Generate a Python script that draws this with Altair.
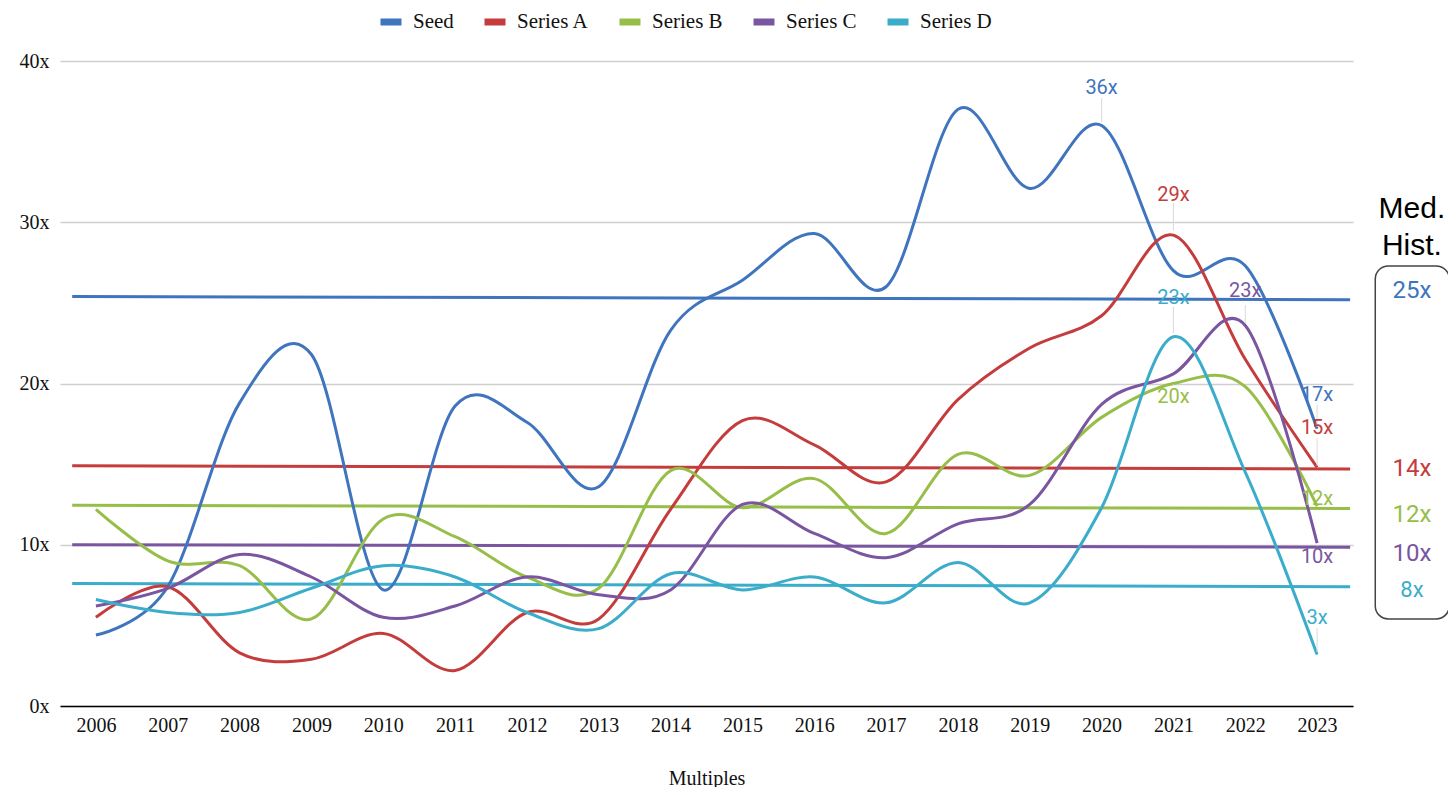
import altair as alt
import pandas as pd

# ---------------- data ----------------
years = list(range(2006, 2024))
series_names = ["Seed", "Series A", "Series B", "Series C", "Series D"]
series_colors = ["#3F74BE", "#C43C3C", "#96BE48", "#7A56A0", "#3BADCA"]

seed     = [4.4, 7.4, 18.8, 21.8, 7.2, 18.6, 17.6, 13.6, 23.3, 26.4, 29.3, 26.0, 37.0, 32.1, 36.0, 27.0, 27.3, 17.2]
series_a = [5.5, 7.4, 3.3, 2.9, 4.5, 2.2, 5.8, 5.4, 12.2, 17.7, 16.2, 13.9, 19.0, 22.2, 24.2, 29.2, 21.5, 14.8]
series_b = [12.2, 9.0, 8.7, 5.4, 11.6, 10.5, 8.0, 7.3, 14.6, 12.3, 14.1, 10.7, 15.6, 14.3, 17.9, 20.0, 19.8, 12.4]
series_c = [6.2, 7.3, 9.4, 8.0, 5.5, 6.2, 8.0, 6.9, 7.2, 12.5, 10.7, 9.2, 11.3, 12.5, 18.7, 20.6, 23.6, 10.1]
series_d = [6.6, 5.8, 5.8, 7.3, 8.7, 8.0, 5.8, 4.8, 8.2, 7.2, 8.0, 6.4, 8.9, 6.4, 12.3, 22.9, 14.5, 3.2]

# historical medians (start / end of the reference line)
med_span = [2005.67, 2023.46]
med_seed = [25.4, 25.2]
med_a = [14.9, 14.7]
med_b = [12.45, 12.25]
med_c = [10.0, 9.85]
med_d = [7.6, 7.4]

# point annotations
ann_series = ["Seed", "Series A", "Series D", "Series C", "Series B",
              "Seed", "Series A", "Series B", "Series C", "Series D"]
ann_year = [2020, 2021, 2021, 2022, 2021, 2023, 2023, 2023, 2023, 2023]
ann_text = ["36x", "29x", "23x", "23x", "20x", "17x", "15x", "12x", "10x", "3x"]
ann_y = [38.33, 31.69, 25.3, 25.74, 19.16, 19.29, 17.24, 12.84, 9.24, 5.46]
lead_top = [37.7, 31.2, 24.74, 24.87, 19.9, 18.67, 16.62, 12.3, 9.9, 4.84]
lead_bot = [36.2, 29.5, 23.13, 23.75, 19.95, 17.3, 14.9, 12.3, 9.95, 3.35]

# side panel "Med. Hist."
panel_title = ["Med.", "Hist."]
panel_title_y = [30.82, 28.53]
panel_vals = ["25x", "14x", "12x", "10x"]
panel_val_series = ["Seed", "Series A", "Series B", "Series C"]
panel_val_y = [25.74, 14.70, 11.84, 9.43]
panel_small = ["8x"]
panel_small_y = [7.19]
panel_x = 2024.32
box_x = [2023.81, 2024.84]
box_y = [27.29, 5.40]

# ---------------- tables ----------------
values = {"Seed": seed, "Series A": series_a, "Series B": series_b,
          "Series C": series_c, "Series D": series_d}
meds = {"Seed": med_seed, "Series A": med_a, "Series B": med_b,
        "Series C": med_c, "Series D": med_d}
cmap = dict(zip(series_names, series_colors))

df_lines = pd.DataFrame([
    {"year": y, "value": v, "series": s}
    for s in series_names for y, v in zip(years, values[s])
])
df_med = pd.DataFrame([
    {"year": x, "value": v, "series": s, "grp": "m_" + s}
    for s in series_names for x, v in zip(med_span, meds[s])
])
df_ann = pd.DataFrame({
    "year": ann_year, "y": ann_y, "text": ann_text,
    "c": [cmap[s] for s in ann_series],
    "top": lead_top, "bot": lead_bot,
})
df_title = pd.DataFrame({"x": [panel_x] * 2, "y": panel_title_y, "text": panel_title})
df_pv = pd.DataFrame({"x": [panel_x] * 4, "y": panel_val_y, "text": panel_vals,
                      "c": [cmap[s] for s in panel_val_series]})
df_ps = pd.DataFrame({"x": [panel_x], "y": panel_small_y, "text": panel_small,
                      "c": [cmap["Series D"]]})
df_box = pd.DataFrame({"x": [box_x[0]], "x2": [box_x[1]], "y": [box_y[0]], "y2": [box_y[1]]})

# ---------------- scales / axes ----------------
xscale = alt.Scale(domain=[2005.5, 2023.5], nice=False, zero=False)
yscale = alt.Scale(domain=[0, 40], nice=False)
SERIF = "Liberation Serif"

xaxis = alt.Axis(values=years, format="d", title="Multiples", ticks=False,
                 grid=False, domain=True, domainColor="#000", domainWidth=1.5,
                 labelFont=SERIF, labelFontSize=20, labelColor="#111",
                 labelPadding=9, titleFont=SERIF, titleFontSize=20,
                 titleFontWeight="normal", titleColor="#111", titlePadding=33)
yaxis = alt.Axis(values=[0, 10, 20, 30, 40], labelExpr="datum.value + 'x'",
                 title=None, ticks=False, domain=False, grid=True,
                 gridColor="#cfcfcf", gridWidth=1.5,
                 labelFont=SERIF, labelFontSize=20, labelColor="#111",
                 labelPadding=11)

color_scale = alt.Scale(domain=series_names, range=series_colors)
legend = alt.Legend(title=None, orient="none", legendX=317, legendY=-53,
                    direction="horizontal", symbolType="stroke",
                    symbolSize=441, symbolStrokeWidth=7, labelFont=SERIF,
                    labelFontSize=21, labelColor="#111", labelOffset=8,
                    columnPadding=16, padding=0)

X = alt.X("year:Q", scale=xscale, axis=xaxis)
Y = alt.Y("value:Q", scale=yscale, axis=yaxis)

lines = alt.Chart(df_lines).mark_line(interpolate="cardinal", strokeWidth=3).encode(
    x=X, y=Y, color=alt.Color("series:N", scale=color_scale, legend=legend)
)
medians = alt.Chart(df_med).mark_line(strokeWidth=3).encode(
    x=alt.X("year:Q", scale=xscale), y=alt.Y("value:Q", scale=yscale),
    color=alt.Color("series:N", scale=color_scale, legend=legend),
    detail="grp:N",
)
leaders = alt.Chart(df_ann).mark_rule(color="#d9d9d9", strokeWidth=1).encode(
    x=alt.X("year:Q", scale=xscale), y=alt.Y("top:Q", scale=yscale), y2="bot:Q"
)
ann = alt.Chart(df_ann).mark_text(font="Roboto", fontSize=20, baseline="middle",
                                  align="center").encode(
    x=alt.X("year:Q", scale=xscale), y=alt.Y("y:Q", scale=yscale),
    text="text:N", color=alt.Color("c:N", scale=None),
)
ptitle = alt.Chart(df_title).mark_text(font="Liberation Sans", fontSize=30,
                                       baseline="middle", align="center",
                                       color="#000").encode(
    x=alt.X("x:Q", scale=xscale), y=alt.Y("y:Q", scale=yscale), text="text:N"
)
pvals = alt.Chart(df_pv).mark_text(font="Roboto", fontSize=24, baseline="middle",
                                   align="center").encode(
    x=alt.X("x:Q", scale=xscale), y=alt.Y("y:Q", scale=yscale), text="text:N",
    color=alt.Color("c:N", scale=None),
)
psmall = alt.Chart(df_ps).mark_text(font="Roboto", fontSize=22, baseline="middle",
                                    align="center").encode(
    x=alt.X("x:Q", scale=xscale), y=alt.Y("y:Q", scale=yscale), text="text:N",
    color=alt.Color("c:N", scale=None),
)
box = alt.Chart(df_box).mark_rect(fillOpacity=0, stroke="#444", strokeWidth=1.5,
                                  cornerRadius=13).encode(
    x=alt.X("x:Q", scale=xscale), x2="x2:Q",
    y=alt.Y("y:Q", scale=yscale), y2="y2:Q",
)

chart = alt.layer(medians, lines, leaders, ann, ptitle, pvals, psmall, box).properties(
    width=1293, height=645,
    autosize=alt.AutoSizeParams(type="none"),
    padding={"left": 52, "top": 53, "right": 95, "bottom": 81},
    background="white",
).configure_view(stroke=None)

chart.save("out.html", embed_options={"renderer": "svg", "actions": False})
